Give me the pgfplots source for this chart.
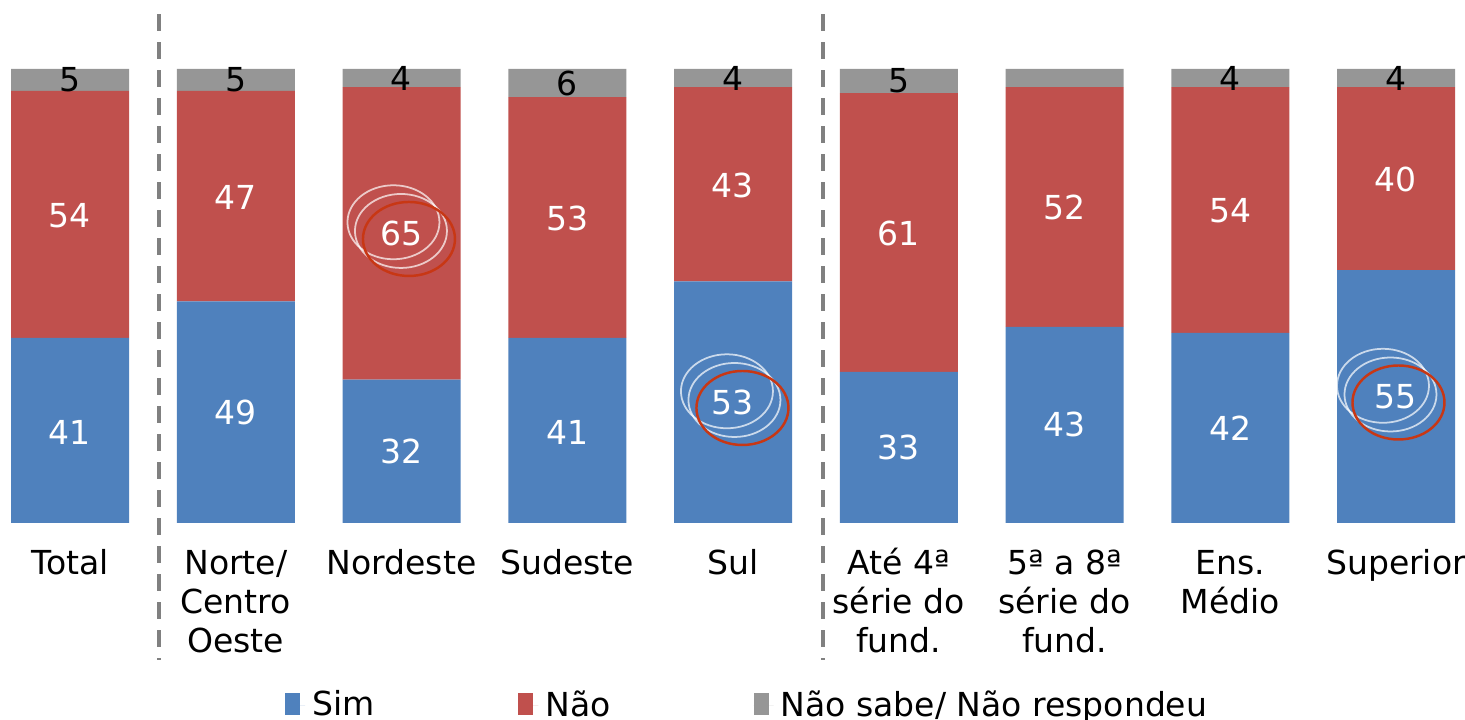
\documentclass[border=0pt]{standalone}
\usepackage{fontspec}
\setmainfont{DejaVu Sans}
\usepackage{pgfplots}
\usepackage{pgfplotstable}
\pgfplotsset{compat=1.18}

\definecolor{simblue}{RGB}{79,129,189}
\definecolor{naored}{RGB}{192,80,77}
\definecolor{nsgray}{RGB}{150,150,150}
\definecolor{ringred}{RGB}{200,55,20}
\definecolor{sepgray}{RGB}{128,128,128}
\newcommand{\lblfont}{\fontsize{9.4}{11.1}\selectfont}

% Sim / Nao / Nao sabe, percentages as drawn
\pgfplotstableread{
x sim  nao  ns
0 40.8 54.4 4.8
1 48.8 46.4 4.8
2 31.6 64.4 4.0
3 40.8 53.0 6.2
4 53.2 42.8 4.0
5 33.3 61.4 5.3
6 43.2 52.8 4.0
7 41.9 54.1 4.0
8 55.7 40.3 4.0
}\dados

% highlight rings around a value
\newcommand{\ring}[2]{%
  \draw[white, opacity=0.7, line width=0.5pt] ([shift={(-0.155cm,0.167cm)}]axis cs:#1,#2) ellipse [x radius=0.46cm, y radius=0.37cm];
  \draw[white, opacity=0.7, line width=0.5pt] ([shift={(-0.08cm,0.08cm)}]axis cs:#1,#2) ellipse [x radius=0.46cm, y radius=0.37cm];
  \draw[ringred, line width=0.7pt] (axis cs:#1,#2) ellipse [x radius=0.46cm, y radius=0.37cm];
}

\pgfplotsset{base/.style={
  scale only axis, width=14.44cm, height=4.54cm,
  xmin=-0.356, xmax=8.356, ymin=0, ymax=100,
  axis line style={draw=none}, tick style={draw=none},
  major tick length=0pt, ytick=\empty, clip=false,
}}

\begin{document}
\begin{tikzpicture}
\useasboundingbox (-0.11cm,-1.97cm) rectangle (14.54cm,5.23cm);

\begin{axis}[base,
  ybar stacked, bar width=1.18cm,
  xtick={0,...,8},
  xticklabels={\strut Total, {\strut Norte/\\Centro\\Oeste}, \strut Nordeste, \strut Sudeste, \strut Sul,
    {\strut Até 4ª\\série do\\fund.}, {\strut 5ª a 8ª\\série do\\fund.}, {\strut Ens.\\Médio}, \strut Superior},
  xticklabel style={font=\lblfont, align=center, anchor=north, yshift=-0.12cm},
  legend columns=3,
  legend image code/.code={%
    \fill[#1] (0cm,-0.09cm) rectangle (0.15cm,0.13cm);
    \path (0cm,0cm) -- (0.2cm,0cm);},
  legend style={draw=none, fill=none, inner sep=0pt, outer sep=0pt,
    at={(0.1898,-0.403)}, anchor=west, font=\lblfont,
    /tikz/column 2/.style={column sep=1.37cm},
    /tikz/column 4/.style={column sep=1.36cm}},
]
\addplot[fill=simblue, draw=none] table[x=x, y=sim] {\dados};
\addlegendentry{Sim}
\addplot[fill=naored, draw=none] table[x=x, y=nao] {\dados};
\addlegendentry{Não}
\addplot[fill=nsgray, draw=none] table[x=x, y=ns] {\dados};
\addlegendentry{Não sabe/ Não respondeu}
\end{axis}

\begin{axis}[base, xtick=\empty]
% value labels, centred in each segment
\addplot[draw=none, nodes near coords, point meta=explicit symbolic,
  every node near coord/.append style={anchor=center, font=\lblfont, text=white}]
  coordinates {(0,20.0)[41] (1,24.4)[49] (2,15.8)[32] (3,20.0)[41] (4,26.6)[53]
               (5,16.65)[33] (6,21.6)[43] (7,20.95)[42] (8,27.85)[55]};
\addplot[draw=none, nodes near coords, point meta=explicit symbolic,
  every node near coord/.append style={anchor=center, font=\lblfont, text=white}]
  coordinates {(0,67.6)[54] (1,71.8)[47] (2,63.8)[65] (3,67.1)[53] (4,74.4)[43]
               (5,63.8)[61] (6,69.4)[52] (7,68.8)[54] (8,75.6)[40]};
\addplot[draw=none, nodes near coords, point meta=explicit symbolic,
  every node near coord/.append style={anchor=center, font=\lblfont, text=black}]
  coordinates {(0,97.6)[5] (1,97.6)[5] (2,98.0)[4] (3,96.9)[6] (4,98.0)[4]
               (5,97.35)[5] (7,98.0)[4] (8,98.0)[4]};

% group separators
\draw[sepgray, line width=0.04cm, dash pattern=on 0.17cm off 0.11cm]
  (axis cs:0.534,112.1) -- (axis cs:0.534,-30.2);
\draw[sepgray, line width=0.04cm, dash pattern=on 0.17cm off 0.11cm]
  (axis cs:4.543,112.1) -- (axis cs:4.543,-30.2);

\ring{2.045}{62.56}
\ring{4.057}{25.33}
\ring{8.015}{26.54}
\end{axis}
\end{tikzpicture}
\end{document}
